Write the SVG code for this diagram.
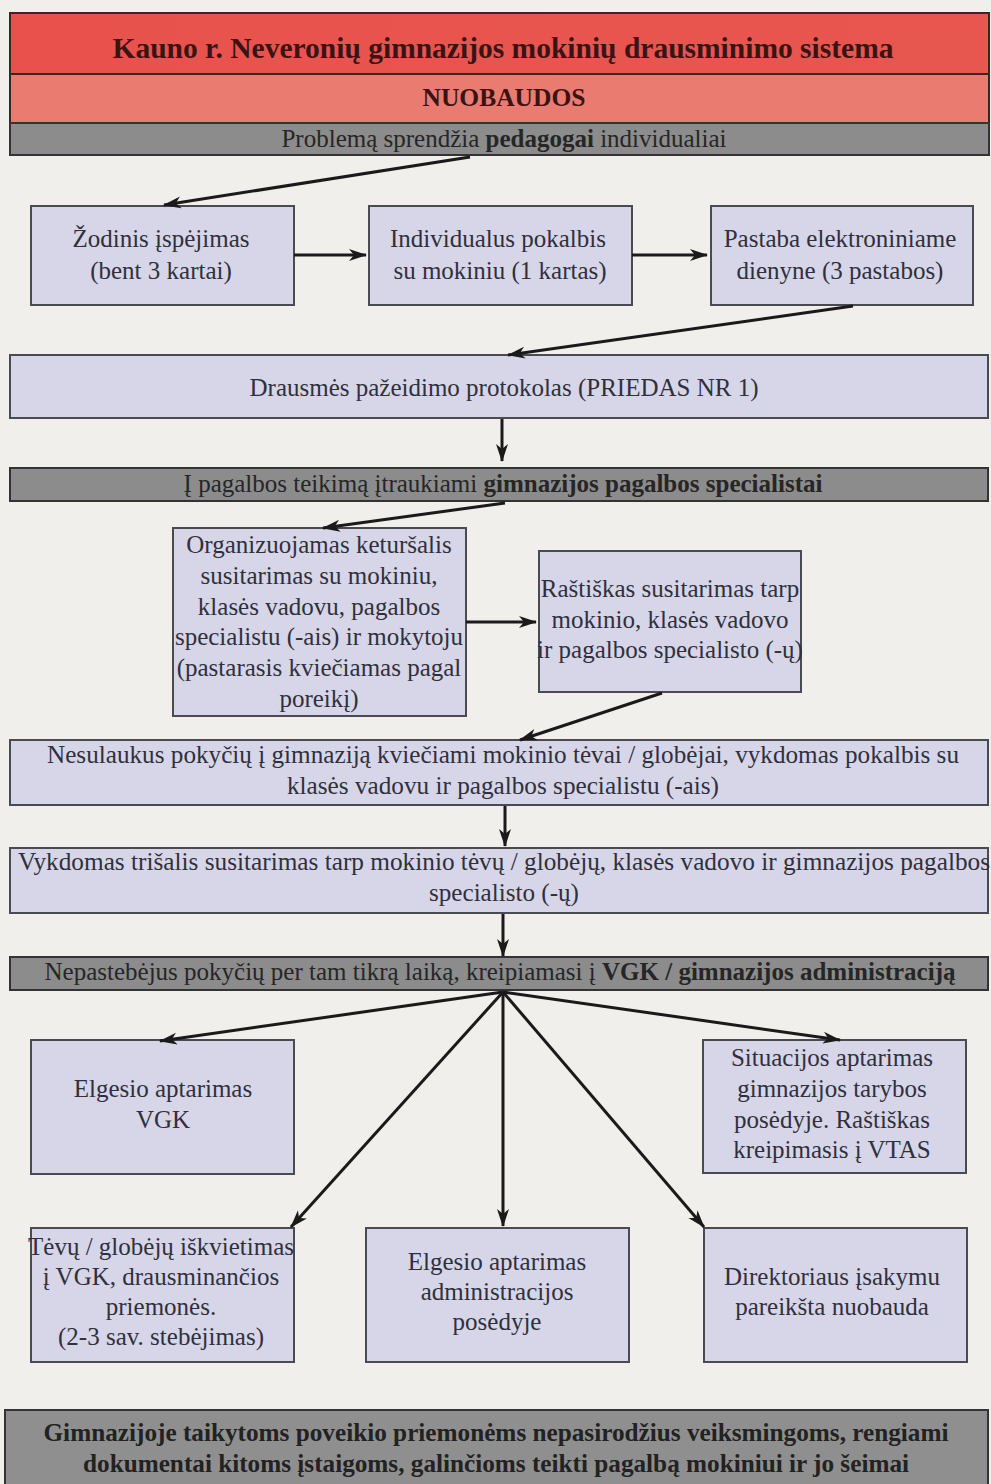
<svg xmlns="http://www.w3.org/2000/svg" width="991" height="1484" viewBox="0 0 991 1484">
<defs>
<marker id="ah" markerWidth="20" markerHeight="14" refX="17" refY="7" orient="auto" markerUnits="userSpaceOnUse">
<path d="M0,1 L18,7 L0,13 L5,7 Z" fill="#1a1a1a"/>
</marker>
<linearGradient id="gRed" x1="0" y1="0" x2="1" y2="0">
<stop offset="0" stop-color="#e9524c"/><stop offset="1" stop-color="#e85650"/>
</linearGradient>
</defs>
<style>
text{font-family:"Liberation Serif","Times New Roman",serif;text-anchor:middle;fill:#30303c}
.box{fill:#d6d6e8;stroke:#4a4a52;stroke-width:2}
.bar{fill:#8c8c8c;stroke:#333;stroke-width:2}
.t{font-size:25px}
.b{font-weight:bold}
.bt{font-size:25px;fill:#262626}
.conn line{stroke:#1a1a1a;stroke-width:3;fill:none;marker-end:url(#ah)}
</style>
<rect width="991" height="1484" fill="#f0efeb"/>

<g id="title">
<rect x="10" y="13" width="979" height="61" fill="url(#gRed)" stroke="#3a2626" stroke-width="2"/>
<text x="503" y="58" class="b" font-size="29.5" style="fill:#3a1414">Kauno r. Neveronių gimnazijos mokinių drausminimo sistema</text>
</g>
<g id="nuobaudos">
<rect x="10" y="74" width="979" height="49" fill="#e97b70" stroke="#3a2626" stroke-width="2"/>
<text x="504" y="106" class="b" font-size="25.5" style="fill:#3a1414">NUOBAUDOS</text>
</g>
<g id="pedagogai">
<rect x="10" y="123" width="979" height="32" class="bar"/>
<text x="504" y="147" class="bt">Problemą sprendžia <tspan font-weight="bold">pedagogai</tspan> individualiai</text>
</g>

<g id="zodinis">
<rect x="31" y="206" width="263" height="99" class="box"/>
<text x="161" y="247" class="t">Žodinis įspėjimas</text>
<text x="161" y="279" class="t">(bent 3 kartai)</text>
</g>
<g id="pokalbis">
<rect x="369" y="206" width="263" height="99" class="box"/>
<text x="498" y="247" class="t">Individualus pokalbis</text>
<text x="500" y="279" class="t">su mokiniu (1 kartas)</text>
</g>
<g id="pastaba">
<rect x="711" y="206" width="262" height="99" class="box"/>
<text x="840" y="247" class="t">Pastaba elektroniniame</text>
<text x="840" y="279" class="t">dienyne (3 pastabos)</text>
</g>

<g id="protokolas">
<rect x="10" y="355" width="978" height="63" class="box"/>
<text x="504" y="396" class="t">Drausmės pažeidimo protokolas (PRIEDAS NR 1)</text>
</g>

<g id="specialistai">
<rect x="10" y="468" width="978" height="33" class="bar"/>
<text x="503" y="492" class="bt">Į pagalbos teikimą įtraukiami <tspan font-weight="bold">gimnazijos pagalbos specialistai</tspan></text>
</g>

<g id="keturšalis">
<rect x="173" y="528" width="293" height="188" class="box"/>
<text x="319" y="553" class="t">Organizuojamas keturšalis</text>
<text x="319" y="584" class="t">susitarimas su mokiniu,</text>
<text x="319" y="615" class="t">klasės vadovu, pagalbos</text>
<text x="319" y="645" class="t">specialistu (-ais) ir mokytoju</text>
<text x="319" y="676" class="t">(pastarasis kviečiamas pagal</text>
<text x="319" y="707" class="t">poreikį)</text>
</g>
<g id="rastiskas">
<rect x="539" y="551" width="262" height="141" class="box"/>
<text x="670" y="597" class="t">Raštiškas susitarimas tarp</text>
<text x="670" y="628" class="t">mokinio, klasės vadovo</text>
<text x="670" y="658" class="t">ir pagalbos specialisto (-ų)</text>
</g>

<g id="tevai">
<rect x="10" y="740" width="978" height="65" class="box"/>
<text x="503" y="763" class="t" textLength="912" lengthAdjust="spacingAndGlyphs">Nesulaukus pokyčių į gimnaziją kviečiami mokinio tėvai / globėjai, vykdomas pokalbis su</text>
<text x="503" y="794" class="t" textLength="432" lengthAdjust="spacingAndGlyphs">klasės vadovu ir pagalbos specialistu (-ais)</text>
</g>
<g id="trisalis">
<rect x="10" y="848" width="978" height="65" class="box"/>
<text x="504" y="870" class="t" textLength="972" lengthAdjust="spacingAndGlyphs">Vykdomas trišalis susitarimas tarp mokinio tėvų / globėjų, klasės vadovo ir gimnazijos pagalbos</text>
<text x="504" y="901" class="t" textLength="150" lengthAdjust="spacingAndGlyphs">specialisto (-ų)</text>
</g>

<g id="vgk">
<rect x="10" y="957" width="978" height="33" class="bar"/>
<text x="500" y="980" class="bt">Nepastebėjus pokyčių per tam tikrą laiką, kreipiamasi į <tspan font-weight="bold">VGK / gimnazijos administraciją</tspan></text>
</g>

<g id="elgesio-vgk">
<rect x="31" y="1040" width="263" height="134" class="box"/>
<text x="163" y="1097" class="t">Elgesio aptarimas</text>
<text x="163" y="1128" class="t">VGK</text>
</g>
<g id="situacijos">
<rect x="703" y="1040" width="263" height="133" class="box"/>
<text x="832" y="1066" class="t">Situacijos aptarimas</text>
<text x="832" y="1097" class="t">gimnazijos tarybos</text>
<text x="832" y="1128" class="t">posėdyje. Raštiškas</text>
<text x="832" y="1158" class="t">kreipimasis į VTAS</text>
</g>
<g id="tevu-iskvietimas">
<rect x="31" y="1228" width="263" height="134" class="box"/>
<text x="161" y="1255" class="t">Tėvų / globėjų iškvietimas</text>
<text x="161" y="1285" class="t">į VGK, drausminančios</text>
<text x="161" y="1315" class="t">priemonės.</text>
<text x="161" y="1345" class="t">(2-3 sav. stebėjimas)</text>
</g>
<g id="elgesio-admin">
<rect x="366" y="1228" width="263" height="134" class="box"/>
<text x="497" y="1270" class="t">Elgesio aptarimas</text>
<text x="497" y="1300" class="t">administracijos</text>
<text x="497" y="1330" class="t">posėdyje</text>
</g>
<g id="direktoriaus">
<rect x="704" y="1228" width="263" height="134" class="box"/>
<text x="832" y="1285" class="t">Direktoriaus įsakymu</text>
<text x="832" y="1315" class="t">pareikšta nuobauda</text>
</g>

<g id="dokumentai">
<rect x="5" y="1410" width="983" height="80" class="bar" style="fill:#8f8f8f"/>
<text x="496" y="1441" class="t b" style="fill:#222" textLength="905" lengthAdjust="spacingAndGlyphs">Gimnazijoje taikytoms poveikio priemonėms nepasirodžius veiksmingoms, rengiami</text>
<text x="496" y="1472" class="t b" style="fill:#222" textLength="826" lengthAdjust="spacingAndGlyphs">dokumentai kitoms įstaigoms, galinčioms teikti pagalbą mokiniui ir jo šeimai</text>
</g>

<g class="conn" id="connectors">
<line x1="470" y1="157" x2="164" y2="205"/>
<line x1="294" y1="255" x2="366" y2="255"/>
<line x1="632" y1="255" x2="707" y2="255"/>
<line x1="853" y1="306" x2="508" y2="355"/>
<line x1="502" y1="419" x2="502" y2="461"/>
<line x1="505" y1="503" x2="323" y2="528"/>
<line x1="466" y1="622" x2="536" y2="622"/>
<line x1="662" y1="693" x2="520" y2="740"/>
<line x1="505" y1="806" x2="505" y2="846"/>
<line x1="503" y1="914" x2="503" y2="956"/>
<line x1="503" y1="992" x2="160" y2="1041"/>
<line x1="503" y1="992" x2="840" y2="1040"/>
<line x1="503" y1="992" x2="503" y2="1226"/>
<line x1="503" y1="992" x2="291" y2="1227"/>
<line x1="503" y1="992" x2="704" y2="1227"/>
</g>
</svg>
